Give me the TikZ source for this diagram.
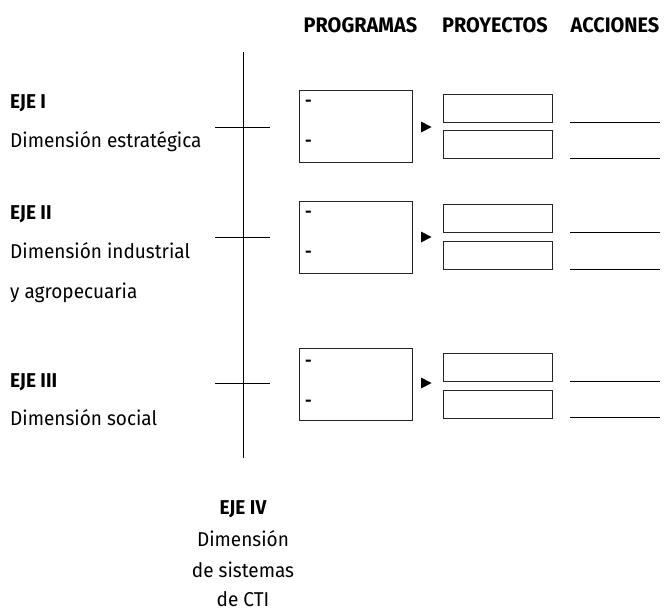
\documentclass[tikz,border=0pt]{standalone}
\usepackage{fontspec}
\setmainfont[FakeStretch=0.95]{Fira Sans}
\begin{document}
\begin{tikzpicture}[x=1pt,y=-1pt,
  prog/.style={draw=black!85,line width=1pt,minimum width=113pt,minimum height=72pt,inner sep=0pt,anchor=north west},
  proj/.style={draw=black!85,line width=1pt,minimum width=109pt,minimum height=28pt,inner sep=0pt,anchor=north west},
  lbl/.style={anchor=base west,inner sep=0pt,font=\fontsize{20}{24}\selectfont},
  blbl/.style={anchor=base west,inner sep=0pt,font=\fontsize{20}{24}\selectfont\bfseries},
  clbl/.style={anchor=base,inner sep=0pt,font=\fontsize{20}{24}\selectfont},
  hdr/.style={anchor=base,inner sep=0pt,font=\fontsize{21}{24}\selectfont\bfseries},
  dsh/.style={anchor=north west,inner sep=0pt,font=\fontsize{17}{18}\selectfont\bfseries},
  ln/.style={line width=0.8pt,black}]
\useasboundingbox (0,0) rectangle (664,611);
% headers
\node[hdr] (h1) at (360.5,32) {PROGRAMAS};
\node[hdr] (h2) at (495,32) {PROYECTOS};
\node[hdr] (h3) at (615,32) {ACCIONES};
% axis
\coordinate (top) at (243,52);
\coordinate (bot) at (243,458);
\draw[ln] (top) -- (bot);
\foreach \y/\n in {127/1,237/2,383/3}{
  \coordinate (tl\n) at (215,\y);
  \coordinate (tr\n) at (270,\y);
  \draw[ln] (tl\n) -- (tr\n);
}
% left labels
\node[blbl] (e1) at (10,108) {EJE I};
\node[lbl] (d1) at (10,147) {Dimensión estratégica};
\node[blbl] (e2) at (10,219) {EJE II};
\node[lbl] (d2a) at (10,258) {Dimensión industrial};
\node[lbl] (d2b) at (10,298) {y agropecuaria};
\node[blbl] (e3) at (10,387) {EJE III};
\node[lbl] (d3) at (10,425) {Dimensión social};
% EJE IV
\node[clbl,font=\fontsize{20}{24}\selectfont\bfseries] (e4) at (243,514) {EJE IV};
\node[clbl] (d4a) at (243,546) {Dimensión};
\node[clbl] (d4b) at (243,577) {de sistemas};
\node[clbl] (d4c) at (243,606) {de CTI};
% rows
\foreach \n/\py/\dy/\ay/\ra/\rb in {1/90/9.5/127/93.5/130,2/201/9.5/237/204/241,3/348/12/383/353/389.5}{
  \node[prog] (p\n) at (299,\py) {};
  \node[dsh] (pa\n) at (305,\py+\dy) {-};
  \node[dsh] (pb\n) at (305,\py+\dy+40) {-};
  \fill (421,\ay-5.5) -- (431.5,\ay) -- (421,\ay+5.5) -- cycle;
  \node[proj] (ra\n) at (443,\ra) {};
  \node[proj] (rb\n) at (443,\rb) {};
  \coordinate (aa\n) at (570,\ra+28.5);
  \coordinate (ab\n) at (660,\ra+28.5);
  \coordinate (ba\n) at (570,\rb+28);
  \coordinate (bb\n) at (660,\rb+28);
  \draw[ln] (aa\n) -- (ab\n);
  \draw[ln] (ba\n) -- (bb\n);
}
\end{tikzpicture}
\end{document}
